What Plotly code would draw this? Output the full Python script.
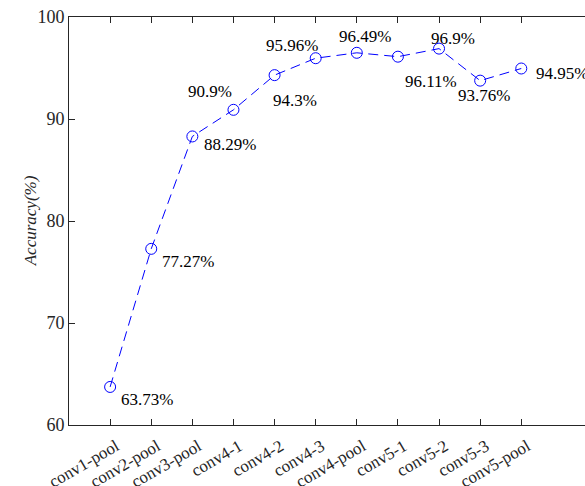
import plotly.graph_objects as go

layers = ["conv1-pool", "conv2-pool", "conv3-pool", "conv4-1", "conv4-2", "conv4-3",
          "conv4-pool", "conv5-1", "conv5-2", "conv5-3", "conv5-pool"]
accuracy = [63.73, 77.27, 88.29, 90.9, 94.3, 95.96, 96.49, 96.11, 96.9, 93.76, 94.95]
labels = ["63.73%", "77.27%", "88.29%", "90.9%", "94.3%", "95.96%", "96.49%",
          "96.11%", "96.9%", "93.76%", "94.95%"]
yticks = [60, 70, 80, 90, 100]

# pixel offsets of each label's left edge / vertical centre from its point
label_offsets = [(9, -13), (9, -13), (10, -8), (-47, 18), (-4, -25), (-52, 13),
                 (-20, 16), (5, -25), (-10, 10), (-24, -15), (13, -5)]

xpos = list(range(1, len(layers) + 1))
FONT = "'Liberation Serif', 'Times New Roman', Times, serif"
BLUE = "#0000ff"
AX = "#262626"

fig = go.Figure()
fig.add_trace(go.Scatter(
    x=xpos, y=accuracy, mode="lines+markers",
    line=dict(color=BLUE, width=1, dash="10px,6px"),
    marker=dict(symbol="circle-open", size=11, color=BLUE, line=dict(width=1, color=BLUE)),
    showlegend=False, hoverinfo="skip", cliponaxis=False,
))

for xv, yv, t, (dx, dy) in zip(xpos, accuracy, labels, label_offsets):
    fig.add_annotation(x=xv, y=yv, text=t, showarrow=False, xanchor="left", yanchor="middle",
                       xshift=dx, yshift=dy, font=dict(family=FONT, size=17, color="#000000"))

fig.add_annotation(xref="paper", yref="paper", x=-0.075, y=0.5, text="<i>Accuracy(%)</i>",
                   textangle=-90, showarrow=False, xanchor="center", yanchor="middle",
                   font=dict(family=FONT, size=17, color=AX))

fig.update_layout(
    width=585, height=486,
    margin=dict(l=69, r=0, t=17, b=61, autoexpand=False),
    paper_bgcolor="white", plot_bgcolor="white",
    font=dict(family=FONT, size=17, color=AX),
    xaxis=dict(range=[0, 12.55], tickvals=xpos, ticktext=layers, tickangle=-30,
               ticks="inside", ticklen=6, tickcolor=AX, showline=True, linecolor=AX, linewidth=1,
               mirror="ticks", showgrid=False, zeroline=False, automargin=False,
               ticklabelstandoff=4, ticklabelshift=6,
               tickfont=dict(family=FONT, size=17)),
    yaxis=dict(range=[60, 100], tickvals=yticks, ticks="inside", ticklen=6, tickcolor=AX,
               showline=True, linecolor=AX, linewidth=1, mirror=False, showgrid=False,
               zeroline=False, automargin=False, tickfont=dict(family=FONT, size=18)),
)

fig.write_html("out.html", config={"displayModeBar": False},
               post_script="document.body.style.margin='0';document.body.style.padding='0';")
